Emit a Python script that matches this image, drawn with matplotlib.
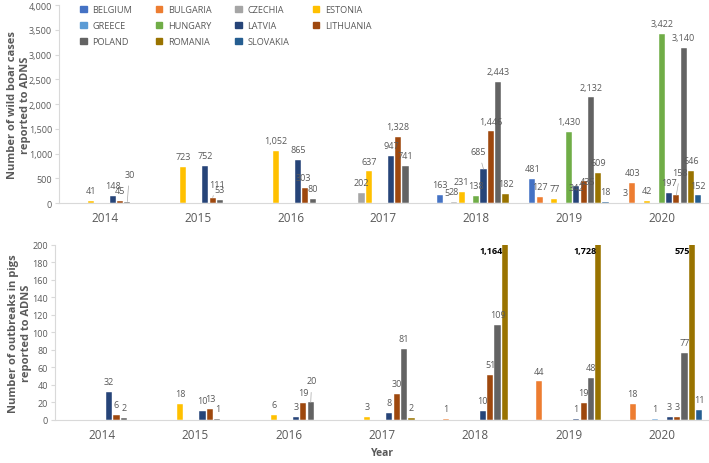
import numpy as np
import matplotlib.pyplot as plt
from matplotlib.patches import Patch

plt.rcParams['font.family'] = ['Open Sans', 'DejaVu Sans']

years = [2014, 2015, 2016, 2017, 2018, 2019, 2020]
countries = ["Belgium", "Bulgaria", "Czechia", "Estonia", "Greece", "Hungary",
             "Latvia", "Lithuania", "Poland", "Romania", "Slovakia"]
colors = ["#4472C4", "#ED7D31", "#A5A5A5", "#FFC000", "#5B9BD5", "#70AD47",
          "#264478", "#9E480E", "#636363", "#997300", "#255E91"]

# wild boar cases per country, 2014-2020
wild_boar = {
    "Belgium":   [0, 0, 0, 0, 163, 481, 3],
    "Bulgaria":  [0, 0, 0, 0, 5, 127, 403],
    "Czechia":   [0, 0, 0, 202, 28, 0, 0],
    "Estonia":   [41, 723, 1052, 637, 231, 77, 42],
    "Greece":    [0, 0, 0, 0, 0, 0, 0],
    "Hungary":   [0, 0, 0, 0, 138, 1430, 3422],
    "Latvia":    [148, 752, 865, 947, 685, 342, 197],
    "Lithuania": [45, 111, 303, 1328, 1446, 435, 158],
    "Poland":    [30, 53, 80, 741, 2443, 2132, 3140],
    "Romania":   [0, 0, 0, 0, 182, 609, 646],
    "Slovakia":  [0, 0, 0, 0, 0, 18, 152],
}
# outbreaks in domestic pigs
outbreaks = {
    "Belgium":   [0, 0, 0, 0, 0, 0, 0],
    "Bulgaria":  [0, 0, 0, 0, 1, 44, 18],
    "Czechia":   [0, 0, 0, 0, 0, 0, 0],
    "Estonia":   [0, 18, 6, 3, 0, 0, 0],
    "Greece":    [0, 0, 0, 0, 0, 0, 1],
    "Hungary":   [0, 0, 0, 0, 0, 0, 0],
    "Latvia":    [32, 10, 3, 8, 10, 1, 3],
    "Lithuania": [6, 13, 19, 30, 51, 19, 3],
    "Poland":    [2, 1, 20, 81, 109, 48, 77],
    "Romania":   [0, 0, 0, 2, 1164, 1728, 575],
    "Slovakia":  [0, 0, 0, 0, 0, 0, 11],
}

grey = "#595959"
slot = 0.079
bw = 0.066

# label nudges (points) and leader lines
top_nudge = {(2014, "Poland"): (1.5, 12, True), (2015, "Lithuania"): (3, 2, True),
             (2018, "Latvia"): (-3.6, 5, True), (2019, "Latvia"): (0, -8.3, False),
             (2019, "Lithuania"): (2.9, -7.2, False), (2020, "Lithuania"): (2.9, 9, True),
             (2016, "Lithuania"): (-1.5, 0, False)}
bot_nudge = {(2016, "Poland"): (0.7, 8, True)}


def fmt(v):
    return "{:,}".format(v)


def draw(ax, data, ymax, nudge):
    x = np.arange(len(years))
    for i, c in enumerate(countries):
        vals = np.array(data[c])
        xs = x + (i - 5) * slot
        ax.bar(xs, vals, bw, color=colors[i], edgecolor="white", linewidth=0.3)
        for xx, v, yr in zip(xs, vals, years):
            if v == 0:
                continue
            if v > ymax:
                ax.annotate(fmt(v), (xx, ymax), xytext=(-1.5, -4), textcoords="offset points",
                            ha="right", va="center", fontsize=6.5, fontweight="bold",
                            color="black")
                continue
            dx, dy, lead = nudge.get((yr, c), (0, 0, False))
            ap = dict(arrowstyle="-", color="#A6A6A6", lw=0.5, shrinkA=3, shrinkB=0) if lead else None
            ax.annotate(fmt(v), (xx, v), xytext=(dx, 7.5 + dy), textcoords="offset points",
                        ha="center", va="center", fontsize=6.5, color=grey, arrowprops=ap)
    ax.set_xlim(-0.5, len(years) - 0.5)
    ax.set_ylim(0, ymax)
    ax.set_xticks(x)
    ax.set_xticklabels(years, fontsize=8.5, color=grey)
    ax.tick_params(axis="x", length=0, pad=6)
    ax.tick_params(axis="y", labelsize=6.5, colors=grey, length=3, color="#D9D9D9", pad=2)
    for s in ["top", "right"]:
        ax.spines[s].set_visible(False)
    for s in ["left", "bottom"]:
        ax.spines[s].set_color("#D9D9D9")
        ax.spines[s].set_linewidth(0.8)


fig = plt.figure(figsize=(7.09, 4.64), dpi=100)
ax1 = fig.add_axes([0.0832, 0.5603, 0.9154, 0.4267])
ax2 = fig.add_axes([0.0776, 0.0927, 0.9224, 0.3772])

draw(ax1, wild_boar, 4000, top_nudge)
ax1.set_yticks(np.arange(0, 4001, 500))
ax1.set_yticklabels([fmt(v) for v in range(0, 4001, 500)])
ax1.set_ylabel("Number of wild boar cases\nreported to ADNS", fontsize=8,
               fontweight="bold", color=grey, linespacing=1.25, va="center")
ax1.yaxis.set_label_coords(-0.061, 0.5)

draw(ax2, outbreaks, 200, bot_nudge)
ax2.set_yticks(np.arange(0, 201, 20))
ax2.set_ylabel("Number of outbreaks in pigs\nreported to ADNS", fontsize=8,
               fontweight="bold", color=grey, linespacing=1.25, va="center")
ax2.yaxis.set_label_coords(-0.054, 0.5)
ax2.set_xlabel("Year", fontsize=7.5, fontweight="bold", color=grey, labelpad=4)

# legend filled row by row
order = [0, 4, 8, 1, 5, 9, 2, 6, 10, 3, 7]
handles = [Patch(color=colors[i]) for i in order]
labels = [countries[i].upper() for i in order]
leg = ax1.legend(handles, labels, ncol=4, loc="upper left", bbox_to_anchor=(0.02, 1.04),
                 frameon=False, fontsize=6.6, handlelength=0.7, handleheight=0.7,
                 handletextpad=0.6, columnspacing=2.6, labelspacing=0.75,
                 labelcolor=grey)

fig.savefig("out.png", dpi=100)
